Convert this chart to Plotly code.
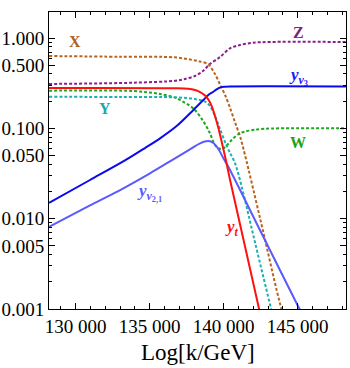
import plotly.graph_objects as go

# X (brown, dotted)
k_X = [128200, 133000, 136700, 137900, 138400, 138940, 139410, 139750, 140090,
       140430, 140760, 141100, 141440, 142450, 143900, 144200]
X = [0.632, 0.62, 0.611, 0.571, 0.549, 0.515, 0.399, 0.306, 0.234,
     0.168, 0.117, 0.082, 0.0506, 0.0102, 0.001, 0.00072]

# Y (cyan, dotted)
k_Y = [128200, 133000, 136700, 138060, 138740, 139070, 139410, 139750, 140090,
       140430, 140760, 141100, 142150, 143200, 143400]
Y = [0.224, 0.222, 0.2205, 0.211, 0.197, 0.177, 0.137, 0.098, 0.0705,
     0.0533, 0.0413, 0.0268, 0.00516, 0.001, 0.00073]

# Z (purple, dotted)
k_Z = [128200, 133900, 136700, 137390, 138060, 138600, 139070, 139750, 140430,
       141100, 141980, 143130, 148300]
Z = [0.31, 0.32, 0.336, 0.352, 0.38, 0.431, 0.515, 0.616, 0.769,
     0.837, 0.887, 0.904, 0.904]

# W (green, dotted)
k_W = [128200, 133870, 135700, 136710, 137050, 137950, 138620, 139070, 139410,
       139680, 139890, 140200, 140540, 140990, 141440, 142120, 142790, 143800, 148300]
W = [0.261, 0.259, 0.240, 0.219, 0.206, 0.166, 0.120, 0.0881, 0.0654,
     0.0598, 0.059, 0.0645, 0.0742, 0.0865, 0.0922, 0.0966, 0.099, 0.100, 0.100]

# y_t (red)
k_t = [128200, 136710, 137590, 138060, 138400, 138740, 138960, 139190, 139410,
       139640, 139890, 140160, 140430, 142390, 142590]
y_t = [0.279, 0.2773, 0.2738, 0.2655, 0.2523, 0.2308, 0.2084, 0.1766, 0.1368,
       0.1008, 0.0679, 0.0434, 0.0268, 0.001, 0.0007]

# y_nu3 (blue)
k_3 = [128200, 130970, 133330, 134680, 135700, 136820, 137950, 138620, 138960,
       139300, 139550, 139750, 140020, 140430, 148300]
y_nu3 = [0.0150, 0.0268, 0.0441, 0.0605, 0.0775, 0.1060, 0.1596, 0.2056, 0.2344,
         0.2542, 0.2723, 0.2823, 0.2882, 0.2904, 0.2904]

# y_nu2,1 (light blue)
k_21 = [128200, 130970, 133220, 135020, 136370, 137720, 138400, 138960, 139300,
        139640, 139970, 140310, 142700, 145040, 145300]
y_nu21 = [0.00813, 0.0140, 0.0217, 0.0318, 0.0431, 0.0585, 0.0682, 0.0723, 0.0688,
          0.059, 0.0469, 0.0376, 0.00618, 0.00106, 0.00088]

x_ticks = [130000, 135000, 140000, 145000]
x_ticktext = ["130 000", "135 000", "140 000", "145 000"]
y_ticks = [1, 0.5, 0.1, 0.05, 0.01, 0.005, 0.001]
y_ticktext = ["1.000", "0.500", "0.100", "0.050", "0.010", "0.005", "0.001"]

SERIF = "Liberation Serif, Times New Roman, serif"
DOT = "3px,2px"

fig = go.Figure()

def add(k, v, color, dotted):
    fig.add_trace(go.Scatter(
        x=k, y=v, mode="lines", showlegend=False, hoverinfo="skip",
        line=dict(color=color, width=2, shape="spline", smoothing=0.9,
                  dash=DOT if dotted else "solid")))

add(k_Z, Z, "#8a1e8a", True)
add(k_X, X, "#b8641c", True)
add(k_W, W, "#1fa81f", True)
add(k_Y, Y, "#1cb0b0", True)
add(k_21, y_nu21, "#5a5aff", False)
add(k_3, y_nu3, "#0a0af0", False)
add(k_t, y_t, "#ff1010", False)

labels = [
    (129950, -0.044, "<b>X</b>", "#b0601c", 16),
    (131980, -0.775, "<b>Y</b>", "#1aa8a8", 16),
    (145020, 0.066, "<b>Z</b>", "#7f1f7f", 16),
    (145020, -1.152, "<b>W</b>", "#1aa31a", 16),
    (145020, -0.421, "<b><i>y</i><sub><i>ν</i><sub>3</sub></sub></b>", "#1a1aff", 17),
    (135020, -1.705, "<b><i>y</i><sub><i>ν</i><sub>2,1</sub></sub></b>", "#5a5aff", 17),
    (140560, -2.104, "<b><i>y</i><sub><i>t</i></sub></b>", "#ff1010", 17),
]
for x, y, t, c, s in labels:
    fig.add_annotation(x=x, y=y, text=t, showarrow=False,
                       font=dict(family=SERIF, size=s, color=c))

# axis title placed as a paper annotation
fig.add_annotation(x=0.5, y=-0.148, xref="paper", yref="paper", text="Log[k/GeV]",
                   showarrow=False, yanchor="middle",
                   font=dict(family=SERIF, size=23, color="black"))

axis_common = dict(
    showline=True, linecolor="black", linewidth=1, mirror="ticks",
    ticks="inside", ticklen=6, tickcolor="black", showgrid=False, zeroline=False,
    automargin=False,
    tickfont=dict(family=SERIF, size=19, color="black"),
)

fig.update_xaxes(
    range=[128200, 148260], tickmode="array", tickvals=x_ticks, ticktext=x_ticktext,
    minor=dict(dtick=1000, tick0=128000, ticks="inside", ticklen=3, tickcolor="black"),
    **axis_common)

minor_y = [m * 10 ** e for e in (-3, -2, -1, 0) for m in (2, 3, 4, 6, 7, 8, 9)]
fig.update_yaxes(
    type="log", range=[-3, 0.288], tickmode="array", tickvals=y_ticks,
    ticktext=y_ticktext,
    minor=dict(tickmode="array", tickvals=minor_y, ticks="inside", ticklen=3,
               tickcolor="black"),
    **axis_common)

fig.update_layout(
    width=350, height=368, margin=dict(l=49, r=4, t=12, b=59),
    plot_bgcolor="white", paper_bgcolor="white",
)

fig.write_html("out.html", config={"displayModeBar": False},
               post_script="document.body.style.margin='0';")
